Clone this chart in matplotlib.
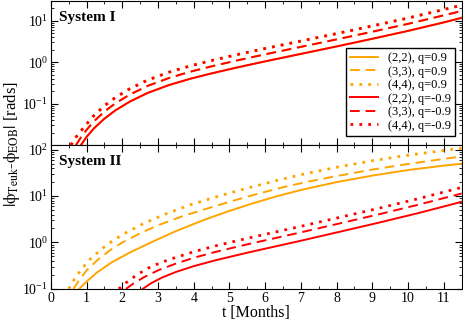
import numpy as np
import matplotlib
matplotlib.use("Agg")
import matplotlib.pyplot as plt
from matplotlib.ticker import LogLocator, NullFormatter, MultipleLocator

plt.rcParams['font.family'] = 'serif'
plt.rcParams['font.serif'] = ['Liberation Serif', 'DejaVu Serif']
plt.rcParams['mathtext.fontset'] = 'stix'

# values, stored as log10 of the phase difference [rads]

# System I (top panel); the q=0.9 and q=-0.9 curves lie on top of each other
t1_22 = [0.84, 1.0, 1.2, 1.5, 1.8, 2.2, 2.7, 3.3, 3.9, 4.5, 5.2, 6.0, 7.0, 8.0, 9.0, 10.0, 11.0, 11.5]
lg1_22 = [-2.0, -1.8, -1.6, -1.36, -1.165, -0.955, -0.745, -0.553, -0.40, -0.27, -0.13,
          0.02, 0.20, 0.38, 0.565, 0.755, 0.96, 1.07]
t1_33 = [0.70, 0.85, 1.0, 1.2, 1.5, 1.8, 2.2, 2.7, 3.3, 3.9, 4.5, 5.2, 6.0, 7.0, 8.0, 9.0, 10.0, 11.0, 11.5]
lg1_33 = [-2.0, -1.8, -1.63, -1.43, -1.19, -0.995, -0.785, -0.575, -0.383, -0.23, -0.10,
          0.04, 0.19, 0.37, 0.55, 0.735, 0.925, 1.13, 1.235]
t1_44 = [0.56, 0.7, 0.85, 1.0, 1.2, 1.5, 1.8, 2.2, 2.7, 3.3, 3.9, 4.5, 5.2, 6.0, 7.0, 8.0, 9.0, 10.0, 11.0, 11.5]
lg1_44 = [-2.0, -1.81, -1.65, -1.49, -1.29, -1.05, -0.855, -0.645, -0.435, -0.243, -0.09,
          0.04, 0.18, 0.33, 0.51, 0.69, 0.875, 1.065, 1.27, 1.375]

# System II (bottom panel), q=0.9
t2p_22 = [0.79, 1.0, 1.3, 1.7, 2.2, 2.8, 3.5, 4.3, 5.0, 5.6, 6.3, 7.0, 8.0, 9.0, 10.0, 11.0, 11.5]
lg2p_22 = [-1.0, -0.84, -0.64, -0.43, -0.22, 0.0, 0.245, 0.49, 0.68, 0.83, 0.99, 1.13,
           1.30, 1.44, 1.56, 1.655, 1.695]
t2p_33 = [0.63, 0.8, 1.0, 1.3, 1.65, 2.0, 2.5, 3.0, 3.7, 4.5, 5.2, 5.8, 6.5, 7.2, 8.0, 9.0, 10.0, 11.0, 11.5]
lg2p_33 = [-1.0, -0.8, -0.6, -0.38, -0.17, 0.0, 0.2, 0.37, 0.57, 0.76, 0.92, 1.05, 1.19,
           1.31, 1.43, 1.57, 1.69, 1.80, 1.85]
t2p_44 = [0.5, 0.65, 0.85, 1.1, 1.4, 1.7, 2.1, 2.6, 3.2, 3.9, 4.7, 5.5, 6.3, 7.0, 8.0, 9.0, 10.0, 11.0, 11.5]
lg2p_44 = [-1.0, -0.8, -0.58, -0.36, -0.15, 0.02, 0.21, 0.41, 0.61, 0.81, 1.0, 1.17, 1.33,
           1.46, 1.62, 1.76, 1.88, 1.98, 2.03]

# System II, q=-0.9
t2m_22 = [2.57, 2.8, 3.1, 3.5, 4.0, 4.6, 5.5, 6.9, 8.0, 9.2, 10.3, 11.5]
lg2m_22 = [-1.0, -0.88, -0.76, -0.635, -0.51, -0.385, -0.22, 0.02, 0.215, 0.43, 0.635, 0.875]
t2m_33 = [2.1, 2.3, 2.6, 3.0, 3.5, 4.0, 4.6, 5.5, 6.9, 8.0, 9.2, 10.3, 11.5]
lg2m_33 = [-1.0, -0.89, -0.75, -0.6, -0.455, -0.33, -0.205, -0.04, 0.2, 0.395, 0.61, 0.815, 1.055]
t2m_44 = [1.9, 2.1, 2.4, 2.8, 3.3, 4.0, 4.6, 5.5, 6.9, 8.0, 9.2, 10.3, 11.5]
lg2m_44 = [-1.0, -0.87, -0.7, -0.52, -0.37, -0.2, -0.075, 0.09, 0.33, 0.525, 0.74, 0.945, 1.185]

labels = ["(2,2), q=0.9", "(3,3), q=0.9", "(4,4), q=0.9",
          "(2,2), q=-0.9", "(3,3), q=-0.9", "(4,4), q=-0.9"]

orange = '#ffa500'
red = '#ff0000'
dash = (0, (5, 3))
dot = (0, (1, 2.2))


def v(lg):
    return 10.0 ** np.array(lg)


fig = plt.figure(figsize=(4.63, 3.21), dpi=100)
ax1 = fig.add_axes([0.110, 0.548, 0.887, 0.449])
ax2 = fig.add_axes([0.110, 0.100, 0.887, 0.448])


def style(ax):
    ax.set_yscale('log')
    ax.set_xlim(0, 11.5)
    ax.xaxis.set_major_locator(MultipleLocator(1))
    ax.xaxis.set_minor_locator(MultipleLocator(0.5))
    ax.yaxis.set_minor_locator(LogLocator(base=10, subs=np.arange(2, 10)))
    ax.yaxis.set_minor_formatter(NullFormatter())
    ax.tick_params(which='both', direction='in', top=True, right=True, labelsize=10, pad=2)
    ax.tick_params(which='major', length=5)
    ax.tick_params(which='minor', length=2.5)


lw = 1.4
# top panel
l1, = ax1.plot(t1_22, v(lg1_22), color=orange, lw=lw)
l2, = ax1.plot(t1_33, v(lg1_33), color=orange, lw=lw, ls=dash)
l3, = ax1.plot(t1_44, v(lg1_44), color=orange, lw=2, ls=dot)
l4, = ax1.plot(t1_22, v(lg1_22), color=red, lw=lw)
l5, = ax1.plot(t1_33, v(lg1_33), color=red, lw=lw, ls=dash)
l6, = ax1.plot(t1_44, v(lg1_44), color=red, lw=2, ls=dot)
style(ax1)
ax1.set_ylim(0.01, 30)
ax1.set_yticks([0.1, 1, 10])
ax1.tick_params(labelbottom=False)
ax1.text(0.02, 0.93, "System I", transform=ax1.transAxes, fontsize=11,
         fontweight='bold', va='top')
ax1.legend([l1, l2, l3, l4, l5, l6], labels, loc='lower right',
           bbox_to_anchor=(0.984, 0.0625), borderaxespad=0, fontsize=9,
           handlelength=2.2, fancybox=False, framealpha=1, edgecolor='black',
           borderpad=0.35, labelspacing=0.12)

# bottom panel
ax2.plot(t2p_22, v(lg2p_22), color=orange, lw=lw)
ax2.plot(t2p_33, v(lg2p_33), color=orange, lw=lw, ls=dash)
ax2.plot(t2p_44, v(lg2p_44), color=orange, lw=2, ls=dot)
ax2.plot(t2m_22, v(lg2m_22), color=red, lw=lw)
ax2.plot(t2m_33, v(lg2m_33), color=red, lw=lw, ls=dash)
ax2.plot(t2m_44, v(lg2m_44), color=red, lw=2, ls=dot)
style(ax2)
ax2.set_ylim(0.1, 125)
ax2.set_yticks([0.1, 1, 10, 100])
ax2.set_xticks(range(12))
ax2.set_xlabel("t [Months]", fontsize=11.5, labelpad=0)
ax2.text(0.02, 0.93, "System II", transform=ax2.transAxes, fontsize=11,
         fontweight='bold', va='top')

fig.text(0.025, 0.55, r'$|\mathrm{\phi}_{\rm Teuk}$-$\mathrm{\phi}_{\rm EOB}|$ [rads]',
         rotation=90, va='center', ha='center', fontsize=12)

fig.savefig("out.png", dpi=100)
